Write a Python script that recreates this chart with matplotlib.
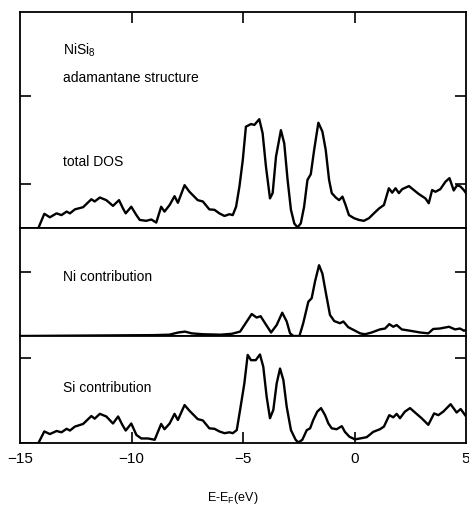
import matplotlib
matplotlib.use("Agg")
import matplotlib.pyplot as plt

plt.rcParams['font.family'] = ['Liberation Sans', 'DejaVu Sans']
plt.rcParams['mathtext.fontset'] = 'custom'
plt.rcParams['mathtext.rm'] = 'Liberation Sans'

# Energy (eV) and DOS (arbitrary units) for total DOS
e_total = [-15.0, -14.18, -13.91, -13.66, -13.36, -13.14, -12.91, -12.76, -12.54, -12.17, -11.80, -11.65,
           -11.42, -11.13, -10.83, -10.56, -10.38, -10.26, -10.01, -9.78, -9.63, -9.34, -9.11, -8.89,
           -8.67, -8.52, -8.29, -8.07, -7.92, -7.62, -7.40, -7.03, -6.80, -6.51, -6.28, -6.06, -5.83,
           -5.61, -5.46, -5.31, -5.16, -5.01, -4.87, -4.64, -4.49, -4.27, -4.12, -3.97, -3.79, -3.67,
           -3.52, -3.30, -3.15, -3.00, -2.85, -2.70, -2.56, -2.41, -2.26, -2.11, -1.96, -1.81, -1.62,
           -1.44, -1.29, -1.14, -1.02, -0.84, -0.69, -0.54, -0.40, -0.25, -0.02, 0.20, 0.42, 0.65,
           0.87, 1.10, 1.32, 1.54, 1.69, 1.84, 1.99, 2.14, 2.44, 2.66, 2.88, 3.18, 3.33, 3.48, 3.63,
           3.85, 4.08, 4.26, 4.45, 4.60, 4.75, 4.90, 5.0]
dos_total = [0.0, 0.0, 0.33, 0.25, 0.34, 0.30, 0.38, 0.34, 0.43, 0.48, 0.66, 0.61,
             0.70, 0.64, 0.51, 0.64, 0.45, 0.34, 0.49, 0.30, 0.19, 0.17, 0.20, 0.13,
             0.49, 0.38, 0.53, 0.73, 0.58, 0.98, 0.83, 0.64, 0.61, 0.43, 0.42, 0.34, 0.28,
             0.32, 0.30, 0.49, 0.95, 1.55, 2.31, 2.37, 2.35, 2.48, 2.16, 1.40, 0.68, 0.80,
             1.63, 2.23, 1.93, 1.10, 0.42, 0.11, 0.02, 0.11, 0.49, 1.10, 1.23, 1.78, 2.40,
             2.20, 1.78, 1.10, 0.80, 0.70, 0.64, 0.72, 0.53, 0.30, 0.23, 0.19, 0.17, 0.23,
             0.34, 0.45, 0.53, 0.91, 0.81, 0.91, 0.80, 0.89, 0.96, 0.87, 0.78, 0.68, 0.57, 0.87, 0.83,
             0.89, 1.06, 1.14, 0.86, 0.98, 0.95, 0.87, 0.80]

# Ni contribution
e_ni = [-15.0, -12.0, -9.0, -8.3, -7.9, -7.6, -7.3, -6.8, -6.0, -5.5, -5.13, -4.61, -4.39, -4.21,
        -4.01, -3.74, -3.49, -3.24, -3.04, -2.89, -2.74, -2.47, -2.30, -2.07, -1.92, -1.77, -1.59,
        -1.44, -1.28, -1.10, -0.91, -0.65, -0.50, -0.28, -0.05, 0.25, 0.47, 0.77, 1.14, 1.37, 1.56,
        1.74, 1.89, 2.12, 2.49, 2.94, 3.31, 3.53, 3.83, 4.24, 4.51, 4.73, 4.91, 5.0]
dos_ni = [0.0, 0.01, 0.02, 0.03, 0.08, 0.10, 0.06, 0.04, 0.03, 0.05, 0.10, 0.50, 0.42, 0.45,
          0.29, 0.08, 0.25, 0.53, 0.33, 0.06, 0.0, 0.0, 0.29, 0.78, 0.86, 1.24, 1.61,
          1.42, 0.97, 0.48, 0.34, 0.29, 0.33, 0.20, 0.14, 0.06, 0.04, 0.08, 0.15, 0.17, 0.27,
          0.21, 0.25, 0.15, 0.12, 0.08, 0.06, 0.16, 0.17, 0.21, 0.15, 0.17, 0.12, 0.14]

# Si contribution
e_si = [-15.0, -14.18, -13.91, -13.66, -13.36, -13.14, -12.91, -12.76, -12.54, -12.17, -11.80, -11.65,
        -11.42, -11.13, -10.83, -10.60, -10.41, -10.26, -10.01, -9.78, -9.56, -9.26, -8.96, -8.67,
        -8.52, -8.29, -8.07, -7.92, -7.62, -7.40, -7.03, -6.80, -6.51, -6.28, -6.06, -5.83, -5.61,
        -5.46, -5.28, -5.13, -4.94, -4.79, -4.64, -4.43, -4.24, -4.09, -3.94, -3.79, -3.64, -3.49,
        -3.34, -3.19, -3.04, -2.85, -2.64, -2.52, -2.34, -2.14, -1.99, -1.85, -1.67, -1.50, -1.32,
        -1.17, -1.02, -0.80, -0.57, -0.43, -0.23, 0.02, 0.25, 0.55, 0.84, 1.14, 1.32, 1.56, 1.74,
        1.89, 2.04, 2.26, 2.49, 2.76, 3.01, 3.31, 3.57, 3.76, 3.98, 4.31, 4.58, 4.76, 4.96]
dos_si = [0.0, 0.0, 0.27, 0.21, 0.28, 0.25, 0.33, 0.29, 0.38, 0.44, 0.62, 0.56,
          0.67, 0.61, 0.45, 0.61, 0.42, 0.29, 0.45, 0.19, 0.11, 0.11, 0.08, 0.44,
          0.32, 0.45, 0.67, 0.53, 0.87, 0.74, 0.55, 0.52, 0.34, 0.33, 0.27, 0.23, 0.25,
          0.23, 0.30, 0.76, 1.36, 2.01, 1.89, 1.89, 2.02, 1.74, 1.06, 0.57, 0.76, 1.36,
          1.70, 1.44, 0.83, 0.30, 0.08, 0.02, 0.08, 0.30, 0.34, 0.53, 0.72, 0.80, 0.64,
          0.45, 0.34, 0.32, 0.39, 0.26, 0.15, 0.09, 0.11, 0.14, 0.26, 0.32, 0.38, 0.64, 0.59,
          0.67, 0.57, 0.72, 0.80, 0.68, 0.57, 0.42, 0.68, 0.64, 0.72, 0.89, 0.70, 0.78, 0.64]

xticks = [-15, -10, -5, 0, 5]
xticklabels = ['\u221215', '\u221210', '\u22125', '0', '5']

W, H = 469, 514
fig = plt.figure(figsize=(W / 100, H / 100), dpi=100)

left = 20 / W
width = 446 / W
def rect(top_px, bot_px):
    return [left, 1 - bot_px / H, width, (bot_px - top_px) / H]

ax1 = fig.add_axes(rect(12.3, 228.3))
ax2 = fig.add_axes(rect(228.3, 336.0))
ax3 = fig.add_axes(rect(336.0, 443.3))

lw = 1.7
ax1.plot(e_total, dos_total, color='black', lw=lw, solid_joinstyle='round')
ax2.plot(e_ni, dos_ni, color='black', lw=lw, solid_joinstyle='round')
ax3.plot(e_si, dos_si, color='black', lw=lw, solid_joinstyle='round')

ax1.set_ylim(0, 4.91)
ax2.set_ylim(0, 2.45)
ax3.set_ylim(0, 2.44)

for ax in (ax1, ax2, ax3):
    ax.set_xlim(-15, 5)
    for s in ax.spines.values():
        s.set_linewidth(1.3)
    ax.tick_params(direction='in', length=8, width=1.2, labelleft=False, labelright=False,
                   left=True, right=True)

ax1.set_yticks([1, 3])
ax2.set_yticks([1.46])
ax3.set_yticks([1.95])

ax1.set_xticks([-10, -5, 0])
ax1.tick_params(axis='x', top=True, bottom=False, labeltop=False, labelbottom=False)
ax2.set_xticks([])
ax3.set_xticks(xticks)
ax3.set_xticklabels(xticklabels, fontsize=11)
ax3.tick_params(axis='x', top=False, bottom=True, pad=6)
for t in ax3.xaxis.get_major_ticks():
    if t.get_loc() in (-15, 5):
        t.tick1line.set_visible(False)

tx = 63 / W
fs = 10
fig.text(tx, 1 - 50 / H, r'NiSi$_\mathregular{8}$', fontsize=fs, va='center', ha='left')
fig.text(tx, 1 - 78 / H, 'adamantane structure', fontsize=fs, va='center', ha='left')
fig.text(tx, 1 - 162 / H, 'total DOS', fontsize=fs, va='center', ha='left')
fig.text(tx, 1 - 277 / H, 'Ni contribution', fontsize=fs, va='center', ha='left')
fig.text(tx, 1 - 388 / H, 'Si contribution', fontsize=fs, va='center', ha='left')
fig.text(233 / W, 1 - 498 / H, r'E-E$_\mathregular{F}$(eV)', fontsize=9, va='center', ha='center')

fig.savefig('out.png', dpi=100)
